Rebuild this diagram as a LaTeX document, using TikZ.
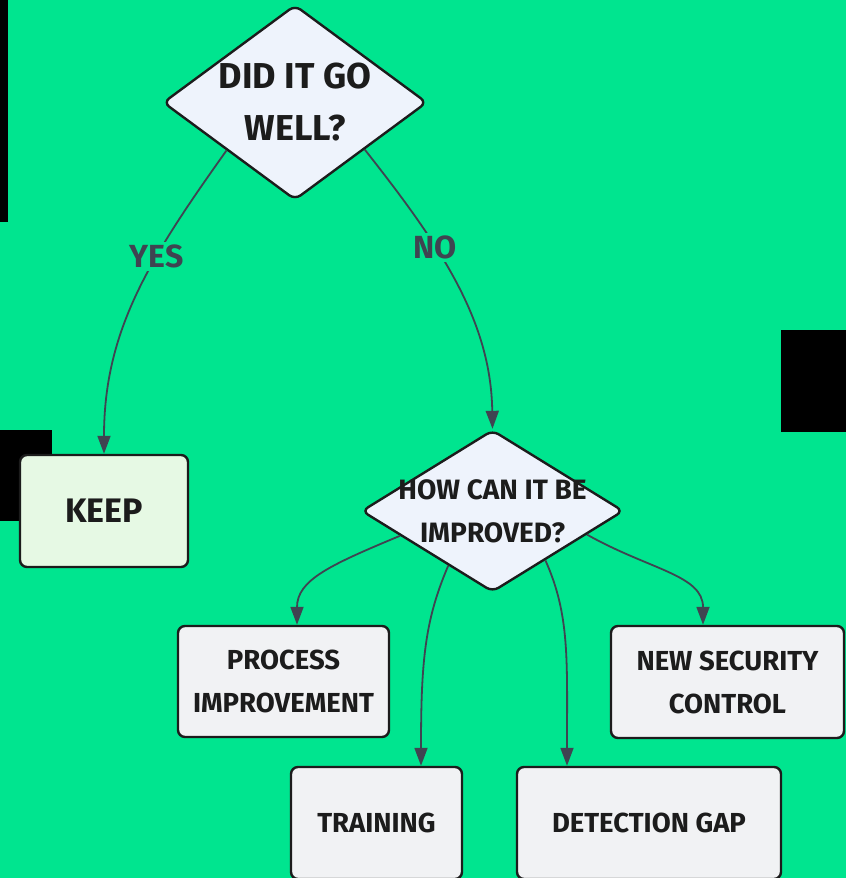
\documentclass[tikz,border=0pt]{standalone}
\usepackage{fontspec}
\setmainfont{Fira Sans}
\usetikzlibrary{shapes.geometric,arrows.meta}
\definecolor{bg}{HTML}{00E58F}
\definecolor{boxfill}{HTML}{F1F2F4}
\definecolor{keepfill}{HTML}{E6F9E4}
\definecolor{diafill}{HTML}{EEF3FC}
\definecolor{edgecol}{HTML}{3F4451}
\definecolor{ink}{HTML}{1C1C1C}
\tikzset{
  box/.style={draw=ink, line width=2.4pt, rounded corners=7pt, fill=boxfill, text=ink,
    align=center, inner sep=0pt, font=\fontsize{27.5}{43}\selectfont\bfseries},
  dia/.style={diamond, draw=ink, line width=2.4pt, rounded corners=7pt, fill=diafill,
    inner sep=0pt, aspect=1.4},
  diatext/.style={text=ink, align=center, inner sep=0pt},
  flow/.style={draw=edgecol, line width=1.8pt, -{Triangle[length=18pt,width=13pt]}},
  elabel/.style={fill=bg, text=edgecol, inner sep=3pt, font=\fontsize{32}{34}\selectfont\bfseries}
}
\begin{document}
\begin{tikzpicture}[x=1pt,y=-1pt]
\useasboundingbox (0,0) rectangle (846,878);
\fill[bg] (0,0) rectangle (846,878);
% black patches
\fill[black] (0,0) rectangle (8,222);
\fill[black] (0,430) rectangle (52,521);
\fill[black] (781,330) rectangle (846,432);

\node[dia, minimum width=264pt, minimum height=195pt,
  label={[diatext, font=\fontsize{36}{52}\selectfont\bfseries]center:DID IT GO\\WELL?}] (d1) at (295,102.5) {};
\node[box, fill=keepfill, minimum width=168pt, minimum height=112pt, font=\fontsize{34}{40}\selectfont\bfseries] (keep) at (104,511) {KEEP};
\node[dia, minimum width=262pt, minimum height=162pt,
  label={[diatext, font=\fontsize{28}{43}\selectfont\bfseries]center:HOW CAN IT BE\\IMPROVED?}] (d2) at (492.5,511) {};
\node[box, minimum width=211pt, minimum height=111pt] (proc) at (283.5,681.5) {PROCESS\\IMPROVEMENT};
\node[box, minimum width=233pt, minimum height=112pt] (sec) at (727.5,682) {NEW SECURITY\\CONTROL};
\node[box, minimum width=171pt, minimum height=112pt] (train) at (376.5,823) {TRAINING};
\node[box, minimum width=264pt, minimum height=112pt] (det) at (649,823) {DETECTION GAP};

\draw[flow] (d1.215) .. controls (150,258) and (104,330) .. (keep.north)
  node[elabel, pos=0.36] {YES};
\draw[flow] (d1.326) .. controls (440,245) and (491,320) .. (d2.north)
  node[elabel, pos=0.36] {NO};
\draw[flow] (d2.195) .. controls (330,565) and (297,580) .. ([xshift=13.5pt]proc.north);
\draw[flow] (d2.231) .. controls (425,620) and (421,660) .. ([xshift=44.5pt]train.north);
\draw[flow] (d2.317) .. controls (570,615) and (567,660) .. ([xshift=-82pt]det.north);
\draw[flow] (d2.346) .. controls (650,570) and (703,575) .. ([xshift=-24.5pt]sec.north);
\end{tikzpicture}
\end{document}
